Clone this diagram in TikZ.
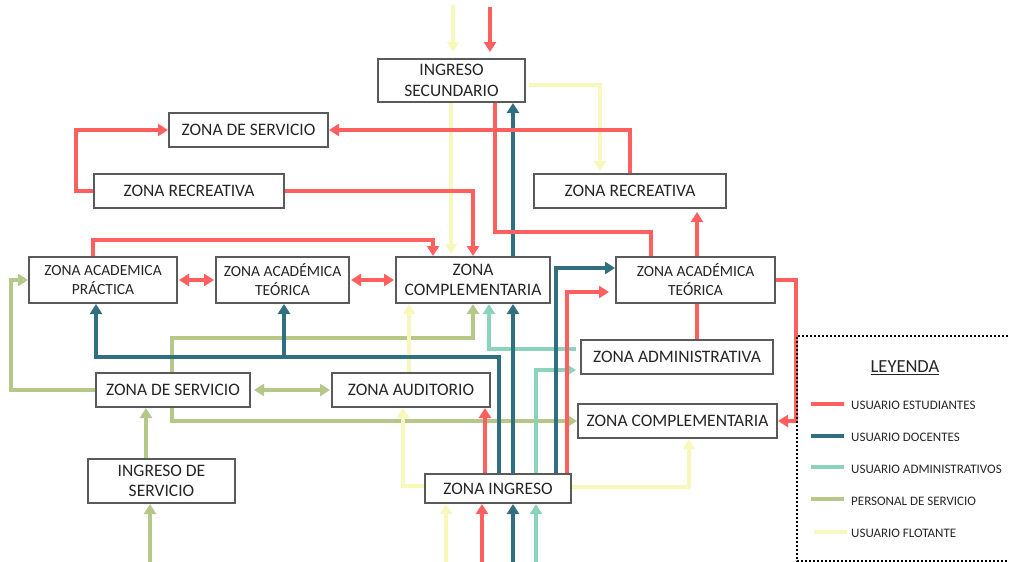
\documentclass[tikz,border=0pt]{standalone}
\usepackage{fontspec}
\setmainfont{Carlito}
\usetikzlibrary{arrows.meta,backgrounds}
\definecolor{cest}{HTML}{FF5F5F}
\definecolor{cdoc}{HTML}{2F6F80}
\definecolor{cadm}{HTML}{8CD3BE}
\definecolor{cser}{HTML}{B6C78A}
\definecolor{cflo}{HTML}{F8F8BC}
\definecolor{boxline}{HTML}{5A5A5A}
\definecolor{txt}{HTML}{262626}
\begin{document}
\begin{tikzpicture}[x=1pt,y=-1pt,
  zbox/.style={draw=boxline, line width=2pt, fill=white, inner sep=0pt, align=center,
    text=txt, font=\fontsize{17.5}{20.5}\selectfont},
  acad/.style={zbox, font=\fontsize{15.5}{19}\selectfont},
  flow/.style={line width=4pt, -{Triangle[width=12pt,length=10pt]}},
  dflow/.style={line width=4pt, {Triangle[width=12pt,length=10pt]}-{Triangle[width=12pt,length=10pt]}},
  est/.style={flow, draw=cest},
  doc/.style={flow, draw=cdoc},
  adm/.style={flow, draw=cadm},
  ser/.style={flow, draw=cser},
  flo/.style={flow, draw=cflo},
  legtxt/.style={anchor=west, inner sep=0pt, text=txt, font=\fontsize{13}{15}\selectfont},
  swatch/.style={line width=4pt}
]
\useasboundingbox (0,0) rectangle (1009,562);

% zones
\node[zbox, minimum width=147pt, minimum height=43pt] (isec) at (451.5,80.5) {INGRESO\\SECUNDARIO};
\node[zbox, minimum width=159pt, minimum height=34pt] (zds1) at (248.5,130) {ZONA DE SERVICIO};
\node[zbox, minimum width=190pt, minimum height=34pt] (zrec1) at (189,191) {ZONA RECREATIVA};
\node[zbox, minimum width=192pt, minimum height=34pt] (zrec2) at (630,191) {ZONA RECREATIVA};
\node[acad, minimum width=148pt, minimum height=46pt] (zap) at (103,280) {ZONA ACADEMICA\\PRÁCTICA};
\node[acad, minimum width=133pt, minimum height=46pt] (zat1) at (282.5,280) {ZONA ACADÉMICA\\TEÓRICA};
\node[zbox, minimum width=154pt, minimum height=46pt] (zc1) at (473,280) {ZONA\\COMPLEMENTARIA};
\node[acad, minimum width=159pt, minimum height=46pt] (zat2) at (695.5,280) {ZONA ACADÉMICA\\TEÓRICA};
\node[zbox, minimum width=192pt, minimum height=34pt] (zadm) at (677,357) {ZONA ADMINISTRATIVA};
\node[zbox, minimum width=199pt, minimum height=34pt] (zc2) at (677.5,421) {ZONA COMPLEMENTARIA};
\node[zbox, minimum width=154pt, minimum height=34pt] (zds2) at (173,390) {ZONA DE SERVICIO};
\node[zbox, minimum width=158pt, minimum height=34pt] (zaud) at (411,390) {ZONA AUDITORIO};
\node[zbox, minimum width=147pt, minimum height=44pt] (iserv) at (161.5,481) {INGRESO DE\\SERVICIO};
\node[zbox, minimum width=146pt, minimum height=29pt] (zi) at (498,488.5) {ZONA INGRESO};

\begin{pgfonlayer}{background}
% personal de servicio
\draw[ser] (150,562) -- (iserv.south -| 150,0);
\draw[ser] (iserv.north -| 146,0) -- (zds2.south -| 146,0);
\draw[ser] (zds2.west) -- ++(-84,0) |- (zap.west);
\draw[ser, dflow, draw=cser, shorten <=3pt, shorten >=1pt] (zds2.east) -- (zaud.west);
\draw[ser] (zds2.north -| 172,0) -- (172,338) -| (zc1.south -| 473,0);
\draw[ser] (zds2.south -| 172,0) |- (zc2.west);

% usuario flotante
\draw[flo, shorten >=6pt] (453,5) -- (isec.north -| 453,0);
\draw[flo, shorten <=3pt, shorten >=2pt] (isec.east |- 0,85) -| (zrec2.north -| 600,0);
\draw[flo, shorten >=2pt] (isec.south -| 451,0) -- (zc1.north -| 451,0);
\draw[flo] (zaud.north -| 409,0) -- (zc1.south -| 409,0);
\draw[flo] (zi.west |- 0,486) -| (zaud.south -| 403,0);
\draw[flo] (zi.east |- 0,487) -| (zc2.south -| 689,0);
\draw[flo] (446,562) -- (zi.south -| 446,0);

% usuario administrativos
\draw[adm, shorten <=4pt] (zadm.west |- 0,349) -| (zc1.south -| 489,0);
\draw[adm, shorten >=4pt] (zi.north -| 536,0) |- (zadm.west |- 0,370);
\draw[adm] (536,562) -- (zi.south -| 536,0);

% usuario docentes
\draw[doc] (zi.north -| 499,0) -- (499,357) -| (zap.south -| 96,0);
\draw[doc] (284,357) -- (zat1.south -| 284,0);
\draw[doc] (zi.north -| 513,0) -- (zc1.south -| 513,0);
\draw[doc] (zc1.north -| 513,0) -- (isec.south -| 513,0);
\draw[doc] (zi.north -| 556,0) |- (zat2.west |- 0,268);
\draw[doc] (513,562) -- (zi.south -| 513,0);

% usuario estudiantes
\draw[est, shorten >=6pt] (490,7) -- (isec.north -| 490,0);
\draw[est] (zrec2.north -| 630,0) |- (zds1.east);
\draw[est] (zrec1.west) -- ++(-17,0) |- (zds1.west);
\draw[est] (zrec1.east) -| (zc1.north -| 473,0);
\draw[est, -] (isec.south -| 495,0) -- (495,232) -| (zat2.north -| 651,0);
\draw[est] (zap.north -| 93,0) -- ++(0,-16) -| (zc1.north -| 433,0);
\draw[dflow, draw=cest, shorten <=1pt, shorten >=1pt] (zap.east) -- (zat1.west);
\draw[dflow, draw=cest, shorten <=1pt, shorten >=1pt] (zat1.east) -- (zc1.west);
\draw[est, shorten >=3pt] (zat2.north -| 697,0) -- (zrec2.south -| 697,0);
\draw[est, -] (zadm.north -| 697,0) -- (zat2.south -| 697,0);
\draw[est] (zat2.east) -- ++(20,0) |- (zc2.east);
\draw[est, shorten >=6pt] (zi.north -| 567,0) |- (zat2.west |- 0,292);
\draw[est] (zi.north -| 485,0) -- (zaud.south -| 485,0);
\draw[est] (482,562) -- (zi.south -| 482,0);
\end{pgfonlayer}

% legend
\draw[line width=2pt, dotted] (1012,336) -- (797,336) -- (797,561) -- (1012,561);
\node[text=txt, inner sep=0pt, font=\fontsize{18.5}{20}\selectfont] (ley) at (905,368) {\underline{LEYENDA}};
\draw[swatch, cest] (811,404) -- (844,404);
\node[legtxt] (l1) at (851,405) {USUARIO ESTUDIANTES};
\draw[swatch, cdoc] (811,436) -- (844,436);
\node[legtxt] (l2) at (851,437) {USUARIO DOCENTES};
\draw[swatch, cadm] (811,467) -- (844,467);
\node[legtxt] (l3) at (851,469) {USUARIO ADMINISTRATIVOS};
\draw[swatch, cser] (811,499) -- (844,499);
\node[legtxt] (l4) at (851,501) {PERSONAL DE SERVICIO};
\draw[swatch, cflo] (814,532) -- (847,532);
\node[legtxt] (l5) at (851,533) {USUARIO FLOTANTE};
\end{tikzpicture}
\end{document}
